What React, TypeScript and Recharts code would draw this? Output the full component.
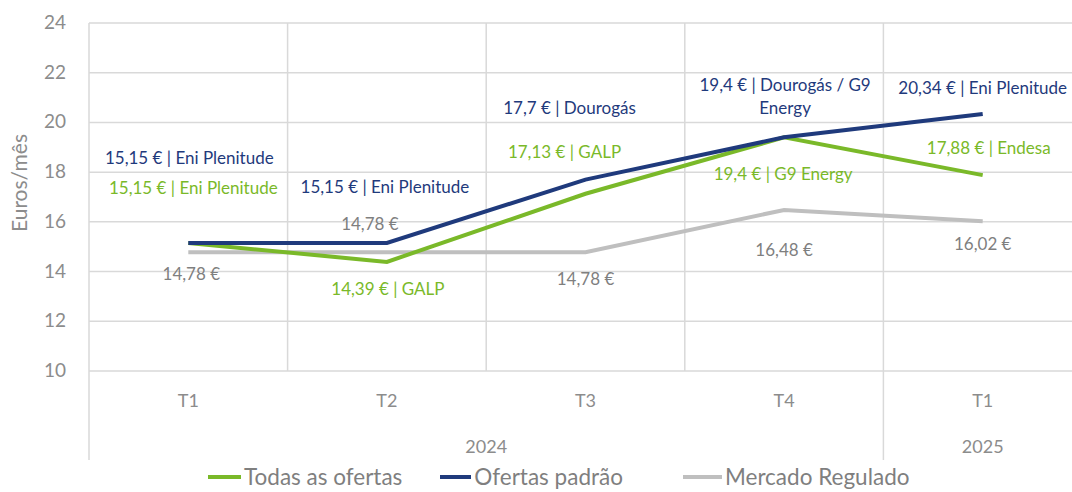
import React from "react";
import { LineChart, Line, XAxis, YAxis, CartesianGrid, LabelList } from "recharts";

const quarters = ["T1", "T2", "T3", "T4", "T1"];
const years = ["2024", "2024", "2024", "2024", "2025"];
const todas = [15.15, 14.39, 17.13, 19.4, 17.88];
const padrao = [15.15, 15.15, 17.7, 19.4, 20.34];
const regulado = [14.78, 14.78, 14.78, 16.48, 16.02];

const todasLabels = [
  ["15,15 € | Eni Plenitude"],
  ["14,39 € | GALP"],
  ["17,13 € | GALP"],
  ["19,4 € | G9 Energy"],
  ["17,88 € | Endesa"],
];
const padraoLabels = [
  ["15,15 € | Eni Plenitude"],
  ["15,15 € | Eni Plenitude"],
  ["17,7 € | Dourogás"],
  ["19,4 € | Dourogás / G9", "Energy"],
  ["20,34 € | Eni Plenitude"],
];
const reguladoLabels = [["14,78 €"], ["14,78 €"], ["14,78 €"], ["16,48 €"], ["16,02 €"]];
const yTicks = [10, 12, 14, 16, 18, 20, 22, 24];

// label placement relative to the point [dx, dy]
const todasPos = [[5, -55], [1, 27], [-21, -42], [-1, 37], [6, -27]];
const padraoPos = [[1, -85], [-2, -56], [-16, -72], [1, -41], [0, -26]];
const reguladoPos = [[3, 22], [-17, -28], [0, 27], [0, 40], [0, 23]];

const GREEN = "#7AB929";
const NAVY = "#1F3A7C";
const GREY = "#BFBFBF";
const FONT = "Lato, 'Open Sans', sans-serif";

const data = quarters.map((q, i) => ({
  q: `${q}-${years[i]}`,
  todas: todas[i],
  padrao: padrao[i],
  regulado: regulado[i],
}));

function makeLabel(texts: string[][], pos: number[][], color: string) {
  // eslint-disable-next-line @typescript-eslint/no-explicit-any
  return (props: any) => {
    const { x, y, index } = props;
    const lines = texts[index];
    const [dx, dy] = pos[index];
    const lh = 23;
    const start = y + dy - ((lines.length - 1) * lh) / 2;
    return (
      <text textAnchor="middle" fill={color} style={{ fontSize: 17, fontFamily: FONT }}>
        {lines.map((l, k) => (
          <tspan key={k} x={x + dx} y={start + k * lh} dy={6}>{l}</tspan>
        ))}
      </text>
    );
  };
}

// eslint-disable-next-line @typescript-eslint/no-explicit-any
function XTick({ x, y, payload, index }: any) {
  const off = payload?.offset ?? 99.3;
  const yr = years[index];
  const first = index === 0 || years[index - 1] !== yr;
  let count = 0;
  if (first) {
    for (let k = index; k < years.length && years[k] === yr; k++) count++;
  }
  return (
    <g>
      <text x={x} y={y + 30} dy={6} textAnchor="middle" fill="#8C8C8C" style={{ fontSize: 18, fontFamily: FONT }}>
        {quarters[index]}
      </text>
      {first && (
        <>
          <line x1={x - off} x2={x - off} y1={y} y2={y + 89} stroke="#D9D9D9" strokeWidth={1.5} />
          <text x={x - off + count * off} y={y + 76} dy={6} textAnchor="middle" fill="#8C8C8C" style={{ fontSize: 18, fontFamily: FONT }}>
            {yr}
          </text>
        </>
      )}
    </g>
  );
}

// eslint-disable-next-line @typescript-eslint/no-explicit-any
function YTick({ x, y, payload }: any) {
  return (
    <text x={x} y={y} dy={6} textAnchor="end" fill="#8C8C8C" style={{ fontSize: 19, fontFamily: FONT }}>
      {payload.value}
    </text>
  );
}

function LegendItem({ color, label, width, gap }: { color: string; label: string; width: number; gap: number }) {
  return (
    <div style={{ display: "flex", alignItems: "center", marginRight: gap }}>
      <span style={{ display: "inline-block", width, height: 4, background: color, marginRight: 3 }} />
      <span>{label}</span>
    </div>
  );
}

export default function App() {
  return (
    <div style={{ position: "fixed", left: 0, top: 0, width: 1072, height: 492, overflow: "hidden", background: "#fff" }}>
      <LineChart width={1100} height={492} data={data} margin={{ top: 23, right: 18, bottom: 0, left: 0 }}>
        <CartesianGrid
          stroke="#D9D9D9"
          strokeWidth={1.5}
          // eslint-disable-next-line @typescript-eslint/no-explicit-any
          verticalCoordinatesGenerator={({ offset }: any) =>
            quarters.map((_, i) => offset.left + (i * offset.width) / quarters.length).concat(offset.left + offset.width)
          }
        />
        <XAxis dataKey="q" scale="band" height={121} axisLine={false} tickLine={false} tickSize={0} tickMargin={0}
          interval={0} tick={<XTick />} />
        <YAxis domain={[10, 24]} ticks={yTicks} width={89} axisLine={false} tickLine={false} tickSize={0}
          tickMargin={23} tick={<YTick />}
          label={{
            // eslint-disable-next-line @typescript-eslint/no-explicit-any
            content: ({ viewBox }: any) => (
              <text x={0} y={0} transform={`translate(${viewBox.x + 27}, ${viewBox.y + viewBox.height / 2 - 14}) rotate(-90)`}
                textAnchor="middle" fill="#8C8C8C" style={{ fontSize: 21, fontFamily: FONT }}>
                Euros/mês
              </text>
            ),
          }} />
        <Line dataKey="regulado" stroke={GREY} strokeWidth={4} dot={false} isAnimationActive={false}>
          <LabelList dataKey="regulado" content={makeLabel(reguladoLabels, reguladoPos, "#7F7F7F")} />
        </Line>
        <Line dataKey="todas" stroke={GREEN} strokeWidth={4} dot={false} isAnimationActive={false}>
          <LabelList dataKey="todas" content={makeLabel(todasLabels, todasPos, GREEN)} />
        </Line>
        <Line dataKey="padrao" stroke={NAVY} strokeWidth={4} dot={false} isAnimationActive={false}>
          <LabelList dataKey="padrao" content={makeLabel(padraoLabels, padraoPos, NAVY)} />
        </Line>
      </LineChart>
      <div style={{ position: "absolute", left: 208, top: 463, lineHeight: "27px", display: "flex", fontFamily: FONT, fontSize: 22.5, color: "#7F7F7F", whiteSpace: "nowrap" }}>
        <LegendItem color={GREEN} label="Todas as ofertas" width={33} gap={38} />
        <LegendItem color={NAVY} label="Ofertas padrão" width={31} gap={60} />
        <LegendItem color={GREY} label="Mercado Regulado" width={39} gap={0} />
      </div>
    </div>
  );
}
